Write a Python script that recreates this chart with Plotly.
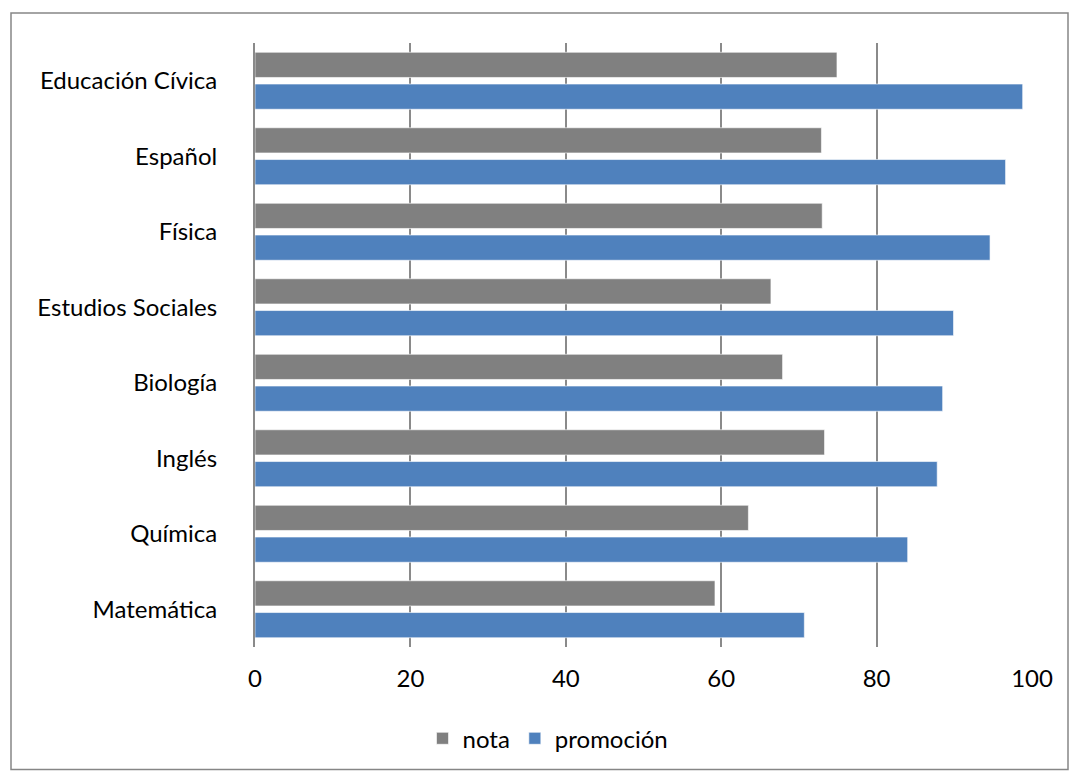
import plotly.graph_objects as go

# Subjects, listed top to bottom
materias = ["Educación Cívica", "Español", "Física", "Estudios Sociales",
            "Biología", "Inglés", "Química", "Matemática"]
nota = [74.9, 72.9, 73.0, 66.4, 67.9, 73.3, 63.5, 59.2]
promocion = [98.8, 96.6, 94.6, 89.9, 88.5, 87.8, 84.0, 70.7]
x_ticks = [0, 20, 40, 60, 80, 100]

GRAY = "#808080"
BLUE = "#4f81bd"
LINE = "#8a8a8a"
FONT = "Lato, Carlito, Calibri, sans-serif"

fig = go.Figure()
fig.add_trace(go.Bar(
    y=materias, x=nota, name="nota", orientation="h",
    marker=dict(color=GRAY, line=dict(color="rgba(255,255,255,0.6)", width=1)),
))
fig.add_trace(go.Bar(
    y=materias, x=promocion, name="promoción", orientation="h",
    marker=dict(color=BLUE, line=dict(color="rgba(255,255,255,0.6)", width=1)),
))

L, R, T, B = 255, 37, 43, 124
W, H = 1069, 773
pw = W - L - R
ph = H - T - B

# outer chart border
fig.add_shape(
    type="rect", xref="paper", yref="paper",
    x0=(11 - L) / pw, x1=(1068 - L) / pw,
    y0=-(772 - (H - B)) / ph, y1=1 + (T - 13) / ph,
    line=dict(color="#868686", width=1.5), fillcolor="rgba(0,0,0,0)",
    layer="below",
)

fig.update_layout(
    width=W, height=H,
    margin=dict(l=L, r=R, t=T, b=B),
    paper_bgcolor="white", plot_bgcolor="white",
    barmode="group", bargap=0.158, bargroupgap=0.207,
    font=dict(family=FONT, size=24, color="#000000"),
    showlegend=True,
    legend=dict(
        orientation="h", x=(548 - L) / pw, xanchor="center",
        y=-(741 - (H - B)) / ph, yanchor="middle",
        font=dict(size=24), itemwidth=30, bgcolor="rgba(0,0,0,0)",
    ),
    xaxis=dict(
        range=[0, 100], tickvals=x_ticks, showgrid=True,
        gridcolor=LINE, gridwidth=2, zeroline=False,
        showline=False, ticks="", ticklabelstandoff=15,
    ),
    yaxis=dict(
        autorange="reversed", showgrid=False, zeroline=False,
        showline=True, linecolor=LINE, linewidth=2, mirror=False,
        ticks="", ticklabelstandoff=31,
    ),
)

fig.write_html("out.html")
